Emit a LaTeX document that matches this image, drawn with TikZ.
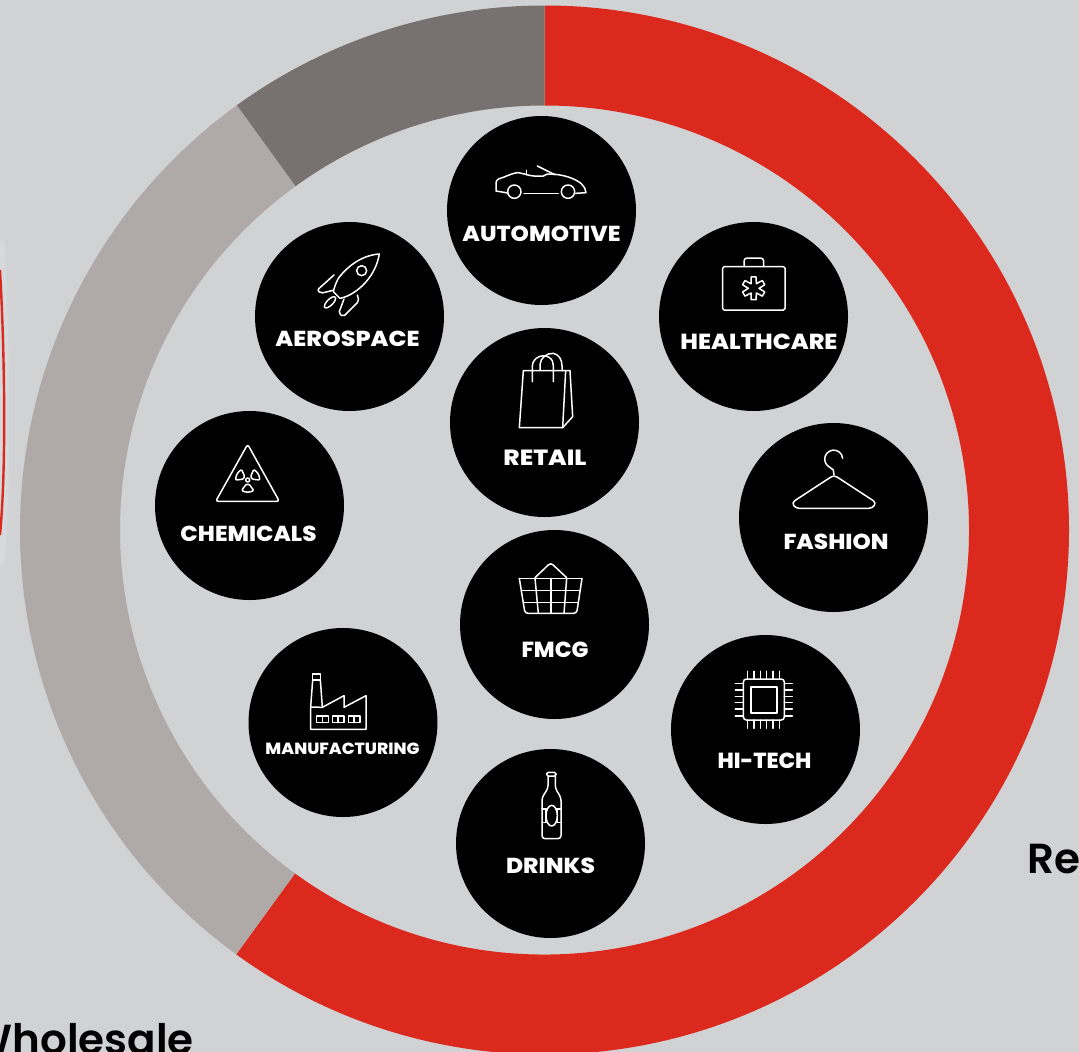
\documentclass[tikz,border=0pt]{standalone}
\usepackage{graphicx}
\usepackage{fontspec}
\newfontfamily\lblfont{Poppins}[UprightFont=*,BoldFont=*-ExtraBold]
\setmainfont{Poppins}[BoldFont=*-SemiBold]
\definecolor{bgc}{HTML}{D1D2D4}
\definecolor{redc}{HTML}{DC291E}
\definecolor{darkc}{HTML}{777270}
\definecolor{lightc}{HTML}{AFAAA8}
\definecolor{haloc}{HTML}{D6D9DB}
\tikzset{
  hub/.style={circle,fill=black,minimum size=189pt,inner sep=0pt},
  lbl/.style={text=white,inner sep=0pt,anchor=center},
  ico/.style={draw=white,line width=1.5pt,line join=round,line cap=round},
  zm/.style 2 args={shift={(#1,#2)},scale=1/3},
  big/.style={text=black,inner sep=0pt,font=\bfseries\fontsize{42}{46}\selectfont}
}
\newcommand{\ringseg}[3]{\fill[#1] (544.5,530) ++(#2:524.5) arc[start angle=#2,end angle=#3,radius=524.5]
  -- ++(#3+180:100) arc[start angle=#3,end angle=#2,radius=424.5] -- cycle;}
\newcommand{\captext}[3]{\resizebox{#1pt}{#2pt}{\lblfont\bfseries #3}}
\begin{document}
\begin{tikzpicture}[x=1pt,y=1pt,yscale=-1]
\useasboundingbox (0,0) rectangle (1079,1052);
\clip (0,0) rectangle (1079,1052);
\fill[bgc] (0,0) rectangle (1079,1052);
% thin red curve at the left edge, with a faint pale halo
\draw[haloc,line width=10pt,line cap=round] (0,245) .. controls (4,340) and (7,460) .. (0,560);
\draw[redc,line width=2.4pt] (0,270) .. controls (4,340) and (7,460) .. (0,535);
% ring
\ringseg{redc}{-90}{126}
\ringseg{lightc}{126}{234.1}
\ringseg{darkc}{234.1}{270}
% circles
\node[hub] (auto) at (541.5,210.5) {};
\node[hub] (aero) at (349.5,316.5) {};
\node[hub] (health) at (753.5,316.5) {};
\node[hub] (retail) at (544.5,422.5) {};
\node[hub] (chem) at (249.5,505.5) {};
\node[hub] (fashion) at (833.5,517.5) {};
\node[hub] (fmcg) at (554.5,624.5) {};
\node[hub] (manu) at (343,722.5) {};
\node[hub] (hitech) at (765.5,729.5) {};
\node[hub] (drinks) at (550.5,843.5) {};
% labels
\node[lbl] (tauto) at (541.5,233.5) {\captext{158}{15.5}{AUTOMOTIVE}};
\node[lbl] (taero) at (347.5,338.5) {\captext{144}{15.5}{AEROSPACE}};
\node[lbl] (thealth) at (759,341.5) {\captext{157}{15.5}{HEALTHCARE}};
\node[lbl] (tretail) at (545,457.5) {\captext{83}{15.5}{RETAIL}};
\node[lbl] (tchem) at (248.5,533.5) {\captext{136}{15.5}{CHEMICALS}};
\node[lbl] (tfashion) at (836,541.5) {\captext{105}{15.5}{FASHION}};
\node[lbl] (tfmcg) at (555,649.5) {\captext{67}{15.5}{FMCG}};
\node[lbl] (tmanu) at (342.5,748.5) {\captext{154}{11.5}{MANUFACTURING}};
\node[lbl] (thitech) at (764.5,760.5) {\captext{94}{15.5}{HI-TECH}};
\node[lbl] (tdrinks) at (550.5,865.5) {\captext{89}{15.5}{DRINKS}};
% outer labels
\node[big,anchor=base west] (re) at (1027,873) {Re};
\node[big,anchor=base east] (whole) at (194,1054) {Wholesale};
% car
\begin{scope}[zm={440}{110}]
\draw[ico] (203,249) -- (168,243) -- (168,217) .. controls (170,207) and (180,205) .. (190,202)
  .. controls (205,196) and (222,188) .. (235,188) -- (258,193) .. controls (268,197) and (285,200) .. (310,198)
  -- (322,192) -- (345,193) .. controls (375,196) and (405,205) .. (425,222) .. controls (432,230) and (438,238) .. (438,248) -- (407,250);
\draw[ico] (223,245) circle[radius=20];
\draw[ico] (384,245) circle[radius=20];
\draw[ico] (252,251) -- (355,251);
\draw[ico] (260,181) -- (260,195);
\draw[ico] (292,168) -- (320,182) -- (345,194);
\end{scope}
% rocket
\begin{scope}[zm={250}{220}]
\draw[ico] (388,102) .. controls (340,105) and (295,135) .. (265,175) .. controls (257,190) and (252,205) .. (250,215)
  -- (270,235) .. controls (310,228) and (375,180) .. (388,102) -- cycle;
\draw[ico] (335,152) circle[radius=15];
\draw[ico,rounded corners=2pt] (252,165) -- (202,210) -- (212,220) -- (249,211);
\draw[ico,rounded corners=2pt] (322,225) -- (327,243) -- (280,290) -- (266,280) -- (282,237);
\draw[ico,rotate around={-45:(240,247)}] (240,247) ellipse[x radius=22,y radius=9];
\end{scope}
% medical case
\begin{scope}[zm={655}{220}]
\draw[ico,rounded corners=1.5pt] (203,140) rectangle (390,270);
\draw[ico,rounded corners=3pt] (267,140) -- (267,114) -- (326,114) -- (326,140);
\begin{scope}[shift={(296,205)}]
\draw[ico] (78:35) \foreach \a in {90,150,...,390} {-- ({\a-12}:35) -- ({\a+12}:35) -- ({\a+30}:16)} -- cycle;
\end{scope}
\end{scope}
% shopping bag
\begin{scope}[zm={445}{325}]
\draw[ico] (235,137) -- (375,137) -- (383,275) -- (353,308) -- (223,308) -- cycle;
\draw[ico] (353,308) -- (362,137);
\draw[ico] (262,170) -- (262,122) .. controls (264,98) and (292,85) .. (312,97) .. controls (322,103) and (325,112) .. (325,122) -- (325,170);
\draw[ico] (285,135) -- (285,118) .. controls (287,98) and (305,84) .. (325,85) .. controls (342,88) and (351,105) .. (351,122) -- (352,137);
\end{scope}
% hazard sign
\begin{scope}[zm={150}{410}]
\draw[ico,rounded corners=2.5pt] (293,103) -- (388,274) -- (197,274) -- cycle;
\begin{scope}[shift={(293,210)}]
\draw[ico] (0,0) circle[radius=6];
\foreach \a in {90,210,330}{
  \draw[ico,rounded corners=1pt] ({\a-20}:14) -- ({\a-30}:36) arc[start angle={\a-30},end angle={\a+30},radius=36] -- ({\a+20}:14) -- cycle;
}
\end{scope}
\end{scope}
% hanger
\begin{scope}[zm={735}{420}]
\draw[ico] (323,115) arc[start angle=-5,end angle=-225,radius=27] -- (295,150) -- (297,165);
\draw[ico,rounded corners=3.5pt] (297,165) -- (170,248) -- (182,265) -- (412,265) -- (424,248) -- cycle;
\end{scope}
% basket
\begin{scope}[zm={455}{525}]
\draw[ico,rounded corners=3pt] (193,160) -- (210,265) -- (365,265) -- (381,160);
\draw[ico] (193,160) -- (381,160);
\draw[ico,rounded corners=3pt] (240,158) -- (287,113) -- (335,158);
\draw[ico] (199,197) -- (375,197);
\draw[ico] (205,232) -- (369,232);
\draw[ico] (240,160) -- (250,265);
\draw[ico] (288,160) -- (288,265);
\draw[ico] (335,160) -- (327,265);
\end{scope}
% factory
\begin{scope}[zm={245}{625}]
\draw[ico] (203,147) rectangle (226,165);
\draw[ico] (203,165) -- (197,246);
\draw[ico] (226,165) -- (232,246);
\draw[ico] (197,246) -- (197,313) -- (363,313) -- (363,212) -- (297,247) -- (297,212) -- (232,247) -- cycle;
\foreach \x in {215,262,310}{
  \draw[ico] (\x,273) rectangle ({\x+35},293);
  \draw[ico] ({\x+17},273) -- ({\x+17},293);
}
\end{scope}
% chip
\begin{scope}[zm={665}{630}]
\draw[ico,rounded corners=3pt] (235,147) rectangle (358,270);
\draw[ico,line width=1.7pt] (257,170) rectangle (335,248);
\foreach \p in {248,267,286,305,324,343}{
  \draw[ico] (\p,124) -- (\p,147);
  \draw[ico] (\p,270) -- (\p,295);
}
\foreach \p in {161,180,199,218,237,258}{
  \draw[ico] (211,\p) -- (235,\p);
  \draw[ico] (358,\p) -- (382,\p);
}
\end{scope}
% bottle
\begin{scope}[zm={450}{745}]
\draw[ico,rounded corners=1.5pt] (290,82) rectangle (318,93);
\draw[ico,rounded corners=3pt] (294,93) -- (294,130) -- (276,158) -- (276,281) -- (333,281) -- (333,158) -- (316,130) -- (316,93);
\draw[ico] (305,212) ellipse[x radius=17,y radius=31];
\draw[ico] (276,192) -- (292,192);
\draw[ico] (318,192) -- (333,192);
\draw[ico] (276,232) -- (292,232);
\draw[ico] (318,232) -- (333,232);
\draw[ico] (287,192) -- (287,232);
\draw[ico] (323,192) -- (323,232);
\end{scope}
\end{tikzpicture}
\end{document}
